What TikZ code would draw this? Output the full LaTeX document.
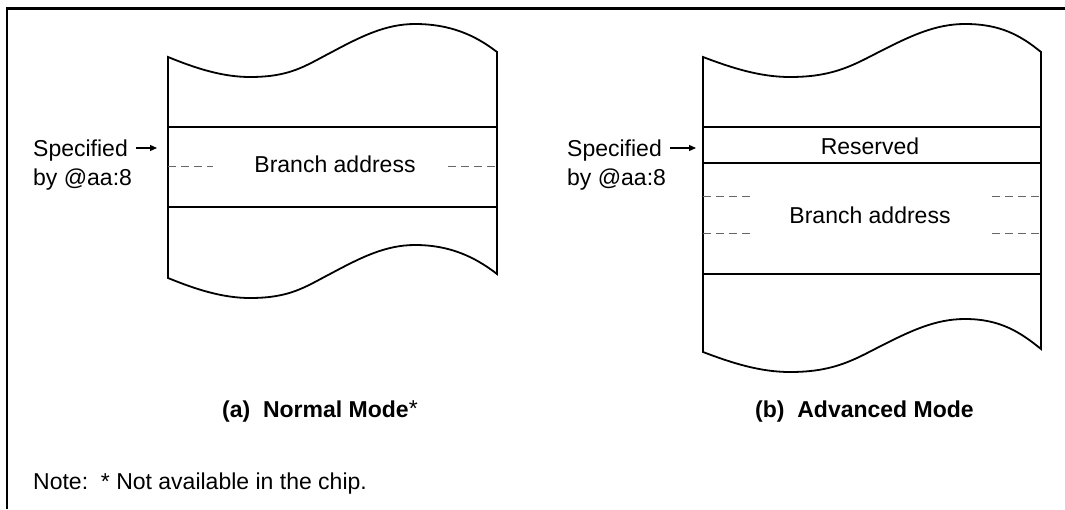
\documentclass[tikz,border=0pt]{standalone}
\usepackage{fontspec}
\setmainfont{Liberation Sans}
\usetikzlibrary{arrows.meta}
\begin{document}
\begin{tikzpicture}[x=1pt,y=-1pt,
  txt/.style={font=\fontsize{23}{28}\selectfont, inner sep=0pt, anchor=base},
  lbl/.style={txt, anchor=base west},
  captext/.style={font=\fontsize{23}{28}\selectfont\bfseries, inner sep=0pt, anchor=base west},
  boxline/.style={line width=1.8pt, line join=miter},
  frameline/.style={line width=2.6pt},
  dashline/.style={line width=1pt, black!60, dash pattern=on 8pt off 5pt},
  arr/.style={line width=1.2pt, -{Triangle[length=7pt,width=6pt]}}
]
\useasboundingbox (0,0) rectangle (1065,509);
% frame (top and left)
\draw[frameline] (7,509) -- (7,8.5) -- (1065,8.5);

% ---------- (a) Normal mode ----------
\draw[boxline] (168,57) .. controls (195,68) and (222,77) .. (250,77)
  .. controls (290,77) and (305,66) .. (330,53)
  .. controls (360,37) and (385,24) .. (415,24)
  .. controls (450,24) and (475,35) .. (497,52)
  -- (497,274)
  .. controls (475,257) and (450,245) .. (415,245)
  .. controls (385,245) and (360,258) .. (330,274)
  .. controls (305,287) and (290,298) .. (250,298)
  .. controls (222,298) and (195,289) .. (168,278) -- cycle;
\draw[boxline] (168,127) -- (497,127);
\draw[boxline] (168,207) -- (497,207);
\draw[dashline] (168,166) -- (213,166);
\draw[dashline] (448,166) -- (497,166);
\node[txt] (baA) at (335,172) {Branch address};
\node[lbl] (specA) at (33,156) {Specified};
\node[lbl] (byA) at (33,185) {by @aa:8};
\coordinate (tipA) at (157,148);
\draw[arr] ([xshift=8pt,yshift=8pt]specA.base east) -- (tipA);
\node[captext] (capA) at (222,417) {(a)\ \ Normal Mode{\mdseries\raisebox{1pt}{*}}};

% ---------- (b) Advanced mode ----------
\draw[boxline] (703,57) .. controls (732,68) and (760,77) .. (790,77)
  .. controls (830,77) and (850,67) .. (875,54)
  .. controls (910,36) and (935,24) .. (965,24)
  .. controls (1000,24) and (1020,35) .. (1041,52)
  -- (1041,349)
  .. controls (1020,332) and (1000,319) .. (965,319)
  .. controls (935,319) and (910,331) .. (875,349)
  .. controls (850,362) and (830,372) .. (790,372)
  .. controls (760,372) and (732,363) .. (703,352) -- cycle;
\draw[boxline] (703,127) -- (1041,127);
\draw[boxline] (703,163) -- (1041,163);
\draw[boxline] (703,274) -- (1041,274);
\draw[dashline] (703,196) -- (751,196);
\draw[dashline] (992,196) -- (1041,196);
\draw[dashline] (703,233) -- (751,233);
\draw[dashline] (992,233) -- (1041,233);
\node[txt] (resB) at (870,154) {Reserved};
\node[txt] (baB) at (870,223) {Branch address};
\node[lbl] (specB) at (567,156) {Specified};
\node[lbl] (byB) at (567,185) {by @aa:8};
\coordinate (tipB) at (696,148);
\draw[arr] ([xshift=8pt,yshift=8pt]specB.base east) -- (tipB);
\node[captext] (capB) at (755,417) {(b)\ \ Advanced Mode};

% note
\node[lbl] (note) at (33,489) {Note:\ \ * Not available in the chip.};
\end{tikzpicture}
\end{document}
